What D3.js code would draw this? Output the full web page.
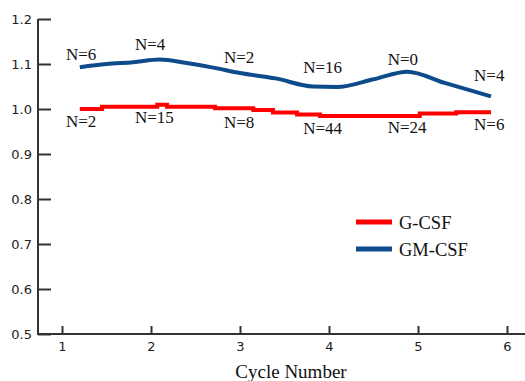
<!DOCTYPE html>
<html>
<head>
<meta charset="utf-8">
<script src="https://cdn.jsdelivr.net/npm/d3@7"></script>
<style>
  html, body { margin: 0; padding: 0; background: #fff; }
  svg { display: block; }
</style>
</head>
<body>
<svg id="chart" width="525" height="381"></svg>
<script>
// ---- data ----
const xTicks = [1, 2, 3, 4, 5, 6];
const yTicks = [0.5, 0.6, 0.7, 0.8, 0.9, 1.0, 1.1, 1.2];

const gcsfX = [1.2, 1.45, 2.07, 2.18, 2.72, 3.15, 3.37, 3.64, 3.9, 5.02, 5.43, 5.82];
const gcsfY = [1.000, 1.005, 1.0096, 1.005, 1.0016, 0.998, 0.992, 0.988, 0.9844, 0.990, 0.993, 0.993];

const gmcsfX = [1.2, 1.5, 1.8, 2.1, 2.4, 2.7, 3.0, 3.4, 3.82, 4.09, 4.5, 4.88, 5.3, 5.82];
const gmcsfY = [1.093, 1.100, 1.104, 1.110, 1.102, 1.092, 1.080, 1.068, 1.050, 1.049, 1.066, 1.083, 1.058, 1.028];

// N annotations (upper: GM-CSF, lower: G-CSF)
const labelX = [1.045, 1.82, 2.82, 3.71, 4.66, 5.63];
const gmLabels = ["N=6", "N=4", "N=2", "N=16", "N=0", "N=4"];
const gmLabelY = [1.109, 1.131, 1.102, 1.080, 1.097, 1.062];
const gLabels = ["N=2", "N=15", "N=8", "N=44", "N=24", "N=6"];
const gLabelY = [0.960, 0.968, 0.958, 0.944, 0.947, 0.953];

const seriesNames = ["G-CSF", "GM-CSF"];
const seriesColors = ["#ff0000", "#0d4b8b"];

// ---- layout ----
const svg = d3.select("#chart");
const x = d3.scaleLinear().domain([1, 6]).range([62, 507]);
const y = d3.scaleLinear().domain([0.5, 1.2]).range([334, 19]);
const axisX0 = 38, axisRight = 525;

// y axis
const yAxis = d3.axisLeft(y).tickValues(yTicks).tickFormat(d3.format(".1f"))
  .tickSizeInner(-13).tickSizeOuter(0).tickPadding(6);
const gy = svg.append("g").attr("transform", `translate(${axisX0},0)`).call(yAxis);
gy.select(".domain").remove();
gy.selectAll(".tick line").attr("stroke", "#333").attr("stroke-width", 2);
gy.selectAll(".tick text").attr("font-family", "DejaVu Sans").attr("font-size", 13)
  .attr("fill", "#222");

svg.append("line").attr("x1", axisX0).attr("x2", axisX0).attr("y1", y(1.2)).attr("y2", y(0.5) + 1)
  .attr("stroke", "#333").attr("stroke-width", 2);

// x axis
const xAxis = d3.axisBottom(x).tickValues(xTicks).tickFormat(d3.format("d"))
  .tickSizeInner(-8).tickSizeOuter(0).tickPadding(8);
const gx = svg.append("g").attr("transform", `translate(0,${y(0.5)})`).call(xAxis);
gx.select(".domain").remove();
gx.selectAll(".tick line").attr("stroke", "#333").attr("stroke-width", 2);
gx.selectAll(".tick text").attr("font-family", "DejaVu Sans").attr("font-size", 13).attr("fill", "#222");
svg.append("line").attr("x1", axisX0 - 1).attr("x2", axisRight).attr("y1", y(0.5)).attr("y2", y(0.5))
  .attr("stroke", "#333").attr("stroke-width", 2);

// lines
const gData = gcsfX.map((d, i) => [d, gcsfY[i]]);
const gmData = gmcsfX.map((d, i) => [d, gmcsfY[i]]);

svg.append("path").datum(gData)
  .attr("d", d3.line().x(d => x(d[0])).y(d => y(d[1])).curve(d3.curveStepAfter))
  .attr("fill", "none").attr("stroke", seriesColors[0]).attr("stroke-width", 4);

svg.append("path").datum(gmData)
  .attr("d", d3.line().x(d => x(d[0])).y(d => y(d[1])).curve(d3.curveMonotoneX))
  .attr("fill", "none").attr("stroke", seriesColors[1]).attr("stroke-width", 4);

// N labels
const serif = "'Liberation Serif', 'Times New Roman', serif";
labelX.forEach((lx, i) => {
  svg.append("text").attr("x", x(lx)).attr("y", y(gmLabelY[i]))
    .attr("font-family", serif).attr("font-size", 17).attr("fill", "#111").text(gmLabels[i]);
  svg.append("text").attr("x", x(lx)).attr("y", y(gLabelY[i]))
    .attr("font-family", serif).attr("font-size", 17).attr("fill", "#111").text(gLabels[i]);
});

// legend
const legend = svg.append("g").attr("transform", "translate(356,222)");
seriesNames.forEach((name, i) => {
  legend.append("line").attr("x1", 0).attr("x2", 36).attr("y1", i * 27).attr("y2", i * 27)
    .attr("stroke", seriesColors[i]).attr("stroke-width", 5);
  legend.append("text").attr("x", 43).attr("y", i * 27 + 6.5)
    .attr("font-family", serif).attr("font-size", 18.5).attr("fill", "#111").text(name);
});

// x axis title
svg.append("text").attr("x", 291).attr("y", 378).attr("text-anchor", "middle")
  .attr("font-family", serif).attr("font-size", 19).attr("fill", "#111").text("Cycle Number");
</script>
</body>
</html>
